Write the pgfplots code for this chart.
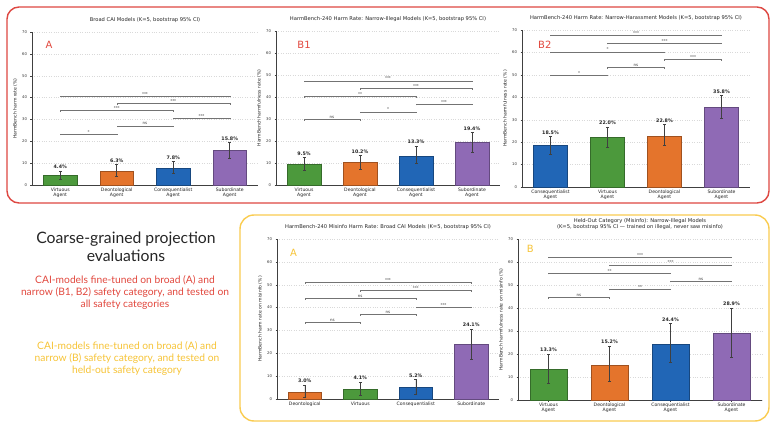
\documentclass[border=0pt]{standalone}
\usepackage{fontspec}
\setmainfont{DejaVu Sans}
\newfontfamily\lato{Lato}
\usepackage{pgfplots}
\pgfplotsset{compat=1.18}
\usetikzlibrary{calc}
\definecolor{cg}{RGB}{76,153,60}
\definecolor{co}{RGB}{228,116,44}
\definecolor{cb}{RGB}{33,102,182}
\definecolor{cp}{RGB}{143,106,181}
\definecolor{redbox}{RGB}{222,72,66}
\definecolor{yelbox}{RGB}{250,204,80}
\definecolor{redtxt}{RGB}{226,72,62}
\definecolor{yeltxt}{RGB}{247,196,55}
\pgfplotsset{
 panel/.style={
  scale only axis, anchor=south west,
  ymin=0, ymax=70, ytick={0,10,...,70},
  xmin=-0.5, xmax=3.5, xtick={0,1,2,3},
  axis x line*=bottom, axis y line*=left,
  axis line style={black!75, line width=0.4bp},
  tick style={black!75, line width=0.4bp},
  tick align=outside, major tick length=1.5bp,
  ymajorgrids, grid style={gray!30, dotted, line width=0.3bp},
  yticklabel style={font=\fontsize{3.8}{4.4}\selectfont, text=black!80},
  xticklabel style={align=center, font=\fontsize{4.6}{5.2}\selectfont, text=black!85, inner sep=1.3bp},
  y label style={font=\fontsize{4.6}{5}\selectfont, text=black!85, yshift=-2bp},
  title style={font=\fontsize{5.2}{6.2}\selectfont, text=black!85, align=center},
  /pgf/number format/assume math mode=true,
  ybar, bar width=0.6, bar shift=0pt,
  clip=false,
 },
}
% x, y, lo, hi, colour, label
\newcommand{\hb}[6]{%
 \addplot[fill=#5, draw=#5!70!black, line width=0.4bp,
   error bars/.cd, y dir=both, y explicit,
   error bar style={black!75, line width=0.5bp},
   error mark options={black!75, line width=0.5bp, mark size=1.5bp, rotate=90}]
   table[row sep=\\, x=x, y=y, y error plus expr=\thisrow{hi}-\thisrow{y}, y error minus expr=\thisrow{y}-\thisrow{lo}]
   {x y lo hi\\ #1 #2 #3 #4\\};
 \node[font=\bfseries\fontsize{4.8}{5}\selectfont, text=black!85, above, inner sep=1.2bp, yshift=0.8bp] at (axis cs:#1,#4) {#6};
}
% x1, x2, y, label
\newcommand{\brk}[4]{%
 \draw[black!55, line width=0.4bp] ([yshift=-1.3bp]axis cs:#1,#3) -- (axis cs:#1,#3) -- (axis cs:#2,#3) -- ([yshift=-1.3bp]axis cs:#2,#3);
 \node[font=\fontsize{4}{4}\selectfont, inner sep=0.6bp, above, text=black!80] at ($(axis cs:#1,#3)!0.5!(axis cs:#2,#3)$) {#4};
}
\begin{document}
\begin{tikzpicture}
\useasboundingbox (0,0) rectangle (779bp,430bp);
\fill[white] (0,0) rectangle (779bp,430bp);
\draw[redbox, line width=1.4bp, rounded corners=12bp] (7bp,227bp) rectangle (769bp,423bp);
\draw[yelbox, line width=1.4bp, rounded corners=14bp] (240bp,9bp) rectangle (769bp,215bp);

% ---------- A ----------
\begin{axis}[panel, at={(32bp,245bp)}, width=226bp, height=153bp,
  title={Broad CAI Models (K=5, bootstrap 95\% CI)},
  ylabel={HarmBench harm rate (\%)},
  xticklabels={{Virtuous\\Agent},{Deontological\\Agent},{Consequentialist\\Agent},{Subordinate\\Agent}}]
\hb{0}{4.4}{2.6}{6.5}{cg}{4.4\%}
\hb{1}{6.3}{3.8}{9.4}{co}{6.3\%}
\hb{2}{7.8}{5.3}{10.7}{cb}{7.8\%}
\hb{3}{15.8}{12.2}{19.5}{cp}{15.8\%}
\brk{0}{3}{40.8}{***}
\brk{1}{3}{37.4}{***}
\brk{0}{2}{34.1}{***}
\brk{2}{3}{30.6}{***}
\brk{1}{2}{27.1}{ns}
\brk{0}{1}{23.4}{*}
\node[text=redtxt, font=\fontsize{10}{10}\selectfont] at (axis cs:-0.2,64) {A};
\end{axis}

% ---------- B1 ----------
\begin{axis}[panel, at={(276bp,245bp)}, width=224bp, height=154bp,
  title={HarmBench-240 Harm Rate: Narrow-Illegal Models (K=5, bootstrap 95\% CI)},
  ylabel={HarmBench harmfulness rate (\%)},
  xticklabels={{Virtuous\\Agent},{Deontological\\Agent},{Consequentialist\\Agent},{Subordinate\\Agent}}]
\hb{0}{9.5}{6.7}{12.6}{cg}{9.5\%}
\hb{1}{10.2}{7.2}{13.5}{co}{10.2\%}
\hb{2}{13.3}{9.8}{17.7}{cb}{13.3\%}
\hb{3}{19.4}{14.7}{23.9}{cp}{19.4\%}
\brk{0}{3}{47.4}{***}
\brk{1}{3}{43.8}{***}
\brk{0}{2}{40.3}{**}
\brk{2}{3}{36.8}{***}
\brk{1}{2}{33.3}{*}
\brk{0}{1}{29.8}{ns}
\node[text=redtxt, font=\fontsize{10}{10}\selectfont] at (axis cs:0,63.5) {B1};
\end{axis}

% ---------- B2 ----------
\begin{axis}[panel, at={(522bp,243bp)}, width=228bp, height=157bp,
  title={HarmBench-240 Harm Rate: Narrow-Harassment Models (K=5, bootstrap 95\% CI)},
  ylabel={HarmBench harmfulness rate (\%)},
  xticklabels={{Consequentialist\\Agent},{Virtuous\\Agent},{Deontological\\Agent},{Subordinate\\Agent}}]
\hb{0}{18.5}{14.8}{22.6}{cb}{18.5\%}
\hb{1}{22.0}{17.6}{26.8}{cg}{22.0\%}
\hb{2}{22.8}{18.8}{27.9}{co}{22.8\%}
\hb{3}{35.8}{30.8}{40.7}{cp}{35.8\%}
\brk{0}{3}{67.8}{***}
\brk{1}{3}{64.2}{***}
\brk{0}{2}{60.3}{*}
\brk{2}{3}{56.8}{***}
\brk{1}{2}{53.4}{ns}
\brk{0}{1}{50.0}{*}
\node[text=redtxt, font=\fontsize{10}{10}\selectfont] at (axis cs:-0.1,63.5) {B2};
\end{axis}

% ---------- C (misinfo, broad) ----------
\begin{axis}[panel, at={(277bp,31bp)}, width=222bp, height=160bp,
  title={HarmBench-240 Misinfo Harm Rate: Broad CAI Models (K=5, bootstrap 95\% CI)},
  ylabel={HarmBench harm rate on misinfo (\%)},
  xticklabels={Deontological,Virtuous,Consequentialist,Subordinate}]
\hb{0}{3.0}{0.6}{6.1}{co}{3.0\%}
\hb{1}{4.1}{1.6}{7.4}{cg}{4.1\%}
\hb{2}{5.2}{1.9}{8.6}{cb}{5.2\%}
\hb{3}{24.1}{17.6}{30.6}{cp}{24.1\%}
\brk{0}{3}{51.0}{***}
\brk{1}{3}{47.5}{***}
\brk{0}{2}{44.0}{ns}
\brk{2}{3}{40.3}{***}
\brk{1}{2}{37.0}{ns}
\brk{0}{1}{33.6}{ns}
\node[text=yeltxt, font=\fontsize{10}{10}\selectfont] at (axis cs:-0.2,64) {A};
\end{axis}

% ---------- D (held-out) ----------
\begin{axis}[panel, at={(518bp,30bp)}, width=244bp, height=161bp,
  title={Held-Out Category (Misinfo): Narrow-Illegal Models\\(K=5, bootstrap 95\% CI — trained on illegal, never saw misinfo)},
  ylabel={HarmBench harmfulness rate on misinfo (\%)},
  xticklabels={{Virtuous\\Agent},{Deontological\\Agent},{Consequentialist\\Agent},{Subordinate\\Agent}}]
\hb{0}{13.3}{7.3}{19.9}{cg}{13.3\%}
\hb{1}{15.2}{8.0}{23.5}{co}{15.2\%}
\hb{2}{24.4}{16.4}{33.3}{cb}{24.4\%}
\hb{3}{28.9}{18.4}{39.9}{cp}{28.9\%}
\brk{0}{3}{62.2}{***}
\brk{1}{3}{58.8}{***}
\brk{0}{2}{55.2}{**}
\brk{2}{3}{51.7}{ns}
\brk{1}{2}{48.2}{**}
\brk{0}{1}{44.6}{ns}
\node[text=yeltxt, font=\fontsize{10}{10}\selectfont] at (axis cs:-0.3,65.5) {B};
\end{axis}

% ---------- left texts ----------
\node[align=center, text=black!85, font=\lato\fontsize{15.8}{18}\selectfont] at (126bp,183bp) {Coarse-grained projection\\evaluations};
\node[align=center, text=redtxt, font=\lato\fontsize{10.3}{12.5}\selectfont] at (125bp,137.5bp) {CAI-models fine-tuned on broad (A) and\\narrow (B1, B2) safety category, and tested on\\all safety categories};
\node[align=center, text=yeltxt, font=\lato\fontsize{10.3}{12.5}\selectfont] at (127bp,71.5bp) {CAI-models fine-tuned on broad (A) and\\narrow (B) safety category, and tested on\\held-out safety category};
\end{tikzpicture}
\end{document}
